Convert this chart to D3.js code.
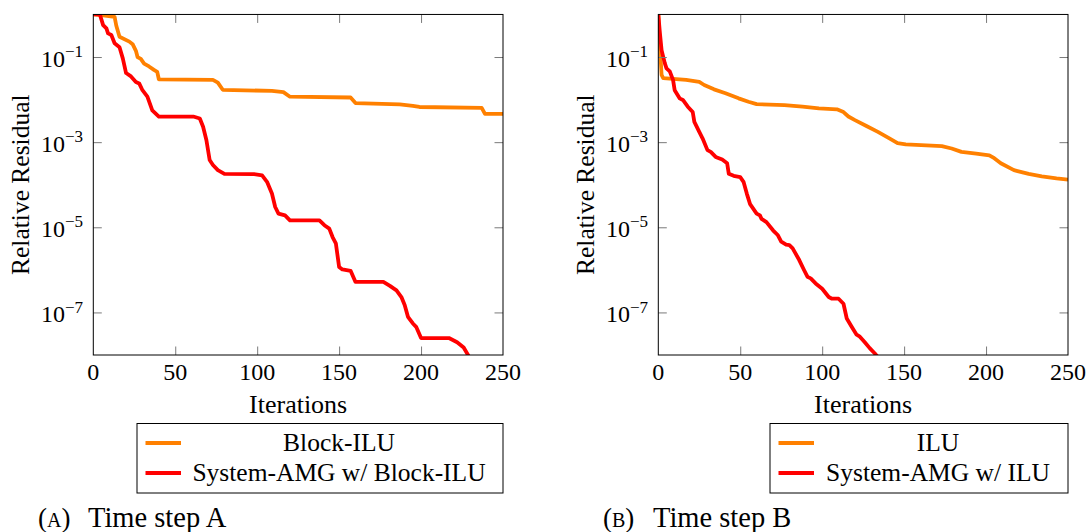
<!DOCTYPE html>
<html>
<head>
<meta charset="utf-8">
<script src="https://cdn.jsdelivr.net/npm/d3@7"></script>
<style>
  html, body { margin: 0; padding: 0; background: #fff; }
  svg { display: block; }
</style>
</head>
<body>
<svg id="chart" width="1087" height="532"></svg>
<script>
// Axis ticks and labels
const iterTicks = [0, 50, 100, 150, 200, 250];
const decadeTicks = [1e-1, 1e-3, 1e-5, 1e-7];
const exponentLabels = ["\u22121", "\u22123", "\u22125", "\u22127"];

// Time step A: Block-ILU
const blockIluIter = [0, 6, 13, 14, 16, 22, 24, 26, 27, 29, 31, 34, 37, 39, 40, 73, 76, 79, 109, 116, 120, 157, 160, 187, 195, 199, 237, 239, 250];
const blockIluRes = [1, 0.95, 0.88, 0.55, 0.30, 0.23, 0.20, 0.14, 0.10, 0.09, 0.07, 0.06, 0.05, 0.045, 0.030, 0.029, 0.025, 0.0170, 0.0160, 0.0150, 0.0117, 0.0112, 0.0083, 0.0077, 0.0071, 0.0067, 0.0064, 0.0046, 0.0046];

// Time step A: System-AMG w/ Block-ILU
const amgBlockIter = [0, 4, 6, 8, 9, 11, 13, 16, 18, 20, 23, 26, 28, 30, 33, 36, 40, 61, 65, 67, 69, 71, 73, 76, 80, 98, 103, 106, 109, 111, 113, 117, 120, 138, 141, 144, 146, 148, 150, 152, 157, 160, 177, 181, 185, 188, 190, 192, 195, 197, 200, 217, 222, 226, 229];
const amgBlockRes = [1, 1, 0.56, 0.47, 0.36, 0.33, 0.21, 0.17, 0.093, 0.042, 0.035, 0.026, 0.024, 0.0166, 0.0117, 0.0056, 0.0040, 0.0040, 0.0036, 0.0023, 0.00112, 3.8e-4, 2.9e-4, 2.2e-4, 1.8e-4, 1.78e-4, 1.66e-4, 1.17e-4, 6.2e-5, 3.0e-5, 2.1e-5, 1.9e-5, 1.45e-5, 1.45e-5, 1.12e-5, 9.3e-6, 5.9e-6, 4.2e-6, 1.17e-6, 1.02e-6, 9.5e-7, 5.2e-7, 5.2e-7, 4.2e-7, 3.3e-7, 2.3e-7, 1.5e-7, 7.9e-8, 5.5e-8, 4.6e-8, 2.5e-8, 2.5e-8, 2.0e-8, 1.5e-8, 9.5e-9];

// Time step B: ILU
const iluIter = [0, 1, 2, 3, 17, 25, 28, 34, 41, 49, 55, 60, 77, 88, 98, 109, 113, 116, 120, 127, 134, 141, 146, 151, 173, 179, 185, 194, 202, 205, 209, 217, 226, 234, 243, 250];
const iluRes = [1, 0.17, 0.038, 0.032, 0.029, 0.026, 0.022, 0.0174, 0.0141, 0.0107, 0.0089, 0.0078, 0.0074, 0.0068, 0.0062, 0.0059, 0.0051, 0.0040, 0.0033, 0.0024, 0.00174, 0.00123, 9.5e-4, 8.9e-4, 8.1e-4, 7.1e-4, 5.9e-4, 5.4e-4, 4.9e-4, 4.2e-4, 3.2e-4, 2.2e-4, 1.8e-4, 1.58e-4, 1.41e-4, 1.32e-4];

// Time step B: System-AMG w/ ILU
const amgIluIter = [0, 1, 2, 4, 5, 7, 9, 10, 13, 15, 18, 21, 22, 25, 27, 30, 32, 35, 39, 42, 43, 46, 50, 52, 54, 56, 60, 62, 63, 66, 70, 73, 75, 78, 80, 82, 86, 89, 91, 93, 96, 100, 104, 106, 110, 113, 115, 118, 121, 123, 126, 129, 132, 134];
const amgIluRes = [1, 0.36, 0.145, 0.071, 0.054, 0.046, 0.029, 0.0166, 0.0107, 0.0098, 0.0068, 0.0051, 0.0030, 0.00174, 0.00123, 6.5e-4, 5.9e-4, 4.5e-4, 3.9e-4, 3.2e-4, 1.82e-4, 1.62e-4, 1.51e-4, 1.17e-4, 6.2e-5, 3.5e-5, 2.1e-5, 1.9e-5, 1.58e-5, 1.32e-5, 8.5e-6, 6.5e-6, 4.6e-6, 3.9e-6, 3.8e-6, 3.2e-6, 1.7e-6, 9.8e-7, 6.9e-7, 6.3e-7, 4.8e-7, 3.6e-7, 2.3e-7, 2.1e-7, 2.1e-7, 1.6e-7, 7.2e-8, 4.6e-8, 3.0e-8, 2.7e-8, 2.0e-8, 1.45e-8, 1.1e-8, 8.9e-9];

const ORANGE = "#ff8000";
const RED = "#ff0000";
const FONT = '"Liberation Serif", "Times New Roman", serif';

const panels = [
  {
    id: "a", left: 93.3, letter: "A", caption: "Time step A",
    legendX: 137, legendW: 366,
    series: [
      { name: "Block-ILU", color: ORANGE, iter: blockIluIter, res: blockIluRes },
      { name: "System-AMG w/ Block-ILU", color: RED, iter: amgBlockIter, res: amgBlockRes }
    ]
  },
  {
    id: "b", left: 658.3, letter: "B", caption: "Time step B",
    legendX: 770, legendW: 298,
    series: [
      { name: "ILU", color: ORANGE, iter: iluIter, res: iluRes },
      { name: "System-AMG w/ ILU", color: RED, iter: amgIluIter, res: amgIluRes }
    ]
  }
];

const plotW = 409.7, plotTop = 14.45, plotBottom = 355;
const tickLen = 8.5;
const svg = d3.select("#chart");

// Serif text helper
const serif = (sel, size) => sel
  .style("font-family", FONT)
  .style("font-size", size + "px")
  .style("fill", "#000");

panels.forEach(p => {
  const x = d3.scaleLinear().domain([0, 250]).range([p.left, p.left + plotW]);
  const y = d3.scaleLog().domain([1e-8, 1]).range([plotBottom, plotTop]);
  const g = svg.append("g");

  g.append("clipPath").attr("id", "clip-" + p.id)
    .append("rect").attr("x", p.left).attr("y", plotTop)
    .attr("width", plotW).attr("height", plotBottom - plotTop);

  // Curves
  const line = d3.line().x(d => x(d[0])).y(d => y(d[1]));
  const curves = g.append("g").attr("clip-path", `url(#clip-${p.id})`);
  p.series.forEach(s => {
    curves.append("path")
      .datum(d3.zip(s.iter, s.res))
      .attr("d", line)
      .attr("fill", "none")
      .attr("stroke", s.color)
      .attr("stroke-width", 3.8)
      .attr("stroke-linejoin", "round")
      .attr("stroke-linecap", "butt");
  });

  // Tick marks (inward on all four sides)
  const styleAxis = sel => {
    sel.select(".domain").remove();
    sel.selectAll(".tick text").remove();
    sel.selectAll(".tick line").attr("stroke", "#7a7a7a").attr("stroke-width", 1);
  };
  const inner = iterTicks.filter(t => t > 0 && t < 250);
  g.append("g").attr("transform", `translate(0,${plotBottom})`)
    .call(d3.axisBottom(x).tickValues(inner).tickSizeInner(-tickLen).tickSizeOuter(0))
    .call(styleAxis);
  g.append("g").attr("transform", `translate(0,${plotTop})`)
    .call(d3.axisTop(x).tickValues(inner).tickSizeInner(-tickLen).tickSizeOuter(0))
    .call(styleAxis);
  g.append("g").attr("transform", `translate(${p.left},0)`)
    .call(d3.axisLeft(y).tickValues(decadeTicks).tickSizeInner(-tickLen).tickSizeOuter(0))
    .call(styleAxis);
  g.append("g").attr("transform", `translate(${p.left + plotW},0)`)
    .call(d3.axisRight(y).tickValues(decadeTicks).tickSizeInner(-tickLen).tickSizeOuter(0))
    .call(styleAxis);

  // Tick labels
  iterTicks.forEach(t => {
    g.append("text")
      .attr("x", x(t)).attr("y", 380)
      .attr("text-anchor", "middle").call(serif, 24)
      .text(d3.format("d")(t));
  });
  decadeTicks.forEach((d, i) => {
    const t = g.append("text")
      .attr("x", p.left - 10.3).attr("y", y(d) + 9.6)
      .attr("text-anchor", "end").call(serif, 24);
    t.append("tspan").text("10");
    t.append("tspan").attr("dy", -9.4).call(serif, 17).text(exponentLabels[i]);
  });

  // Frame
  g.append("rect")
    .attr("x", p.left).attr("y", plotTop)
    .attr("width", plotW).attr("height", plotBottom - plotTop)
    .attr("fill", "none").attr("stroke", "#000").attr("stroke-width", 1);

  // Axis titles
  g.append("text")
    .attr("x", p.left + plotW / 2).attr("y", 413)
    .attr("text-anchor", "middle").call(serif, 26)
    .text("Iterations");
  g.append("text")
    .attr("transform", `translate(${p.left - 64.3},${(plotTop + plotBottom) / 2}) rotate(-90)`)
    .attr("text-anchor", "middle").call(serif, 25.5)
    .text("Relative Residual");

  // Legend
  const lg = g.append("g");
  const lTop = 423.5, lBot = 493;
  lg.append("rect")
    .attr("x", p.legendX).attr("y", lTop)
    .attr("width", p.legendW).attr("height", lBot - lTop)
    .attr("fill", "#fff").attr("stroke", "#000").attr("stroke-width", 1);
  const textLeft = p.legendX + 51;
  const textRight = p.legendX + p.legendW - 13;
  p.series.forEach((s, i) => {
    const cy = 443 + i * 30;
    lg.append("line")
      .attr("x1", p.legendX + 8.5).attr("x2", p.legendX + 44)
      .attr("y1", cy).attr("y2", cy)
      .attr("stroke", s.color).attr("stroke-width", 3.8);
    lg.append("text")
      .attr("x", (textLeft + textRight) / 2).attr("y", cy + 7.5)
      .attr("text-anchor", "middle").call(serif, 25.5)
      .text(s.name);
  });

  // Sub-caption
  const capX = p.left - 55.3;
  const cap = g.append("text").attr("x", capX).attr("y", 527).call(serif, 27);
  cap.append("tspan").text("(");
  cap.append("tspan").call(serif, 20).text(p.letter);
  cap.append("tspan").text(")");
  g.append("text").attr("x", capX + 50).attr("y", 527).call(serif, 28.5).text(p.caption);
});
</script>
</body>
</html>
